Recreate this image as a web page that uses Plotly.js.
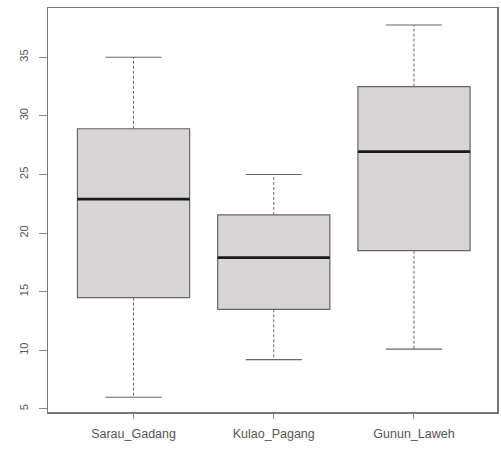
<!DOCTYPE html>
<html><head><meta charset="utf-8">
<script src="https://cdn.plot.ly/plotly-3.0.1.min.js"></script>
<style>html,body{margin:0;padding:0;background:#fff}#c{width:501px;height:449px}</style>
</head><body><div id="c"></div>
<script>
const categories = ["Sarau_Gadang", "Kulao_Pagang", "Gunun_Laweh"];
const lowerWhisker = [6.0, 9.2, 10.1];
const q1 = [14.5, 13.5, 18.5];
const median = [22.9, 17.9, 26.95];
const q3 = [28.9, 21.55, 32.5];
const upperWhisker = [35.0, 25.0, 37.75];
const yTicks = [5, 10, 15, 20, 25, 30, 35];

const pos = categories.map((c, i) => i + 1);
const boxHalf = 0.4, capHalf = 0.2;
const traces = [];
pos.forEach((p, i) => {
  traces.push({type:'scatter', mode:'lines', x:[p,p,null,p,p], y:[q3[i],upperWhisker[i],null,q1[i],lowerWhisker[i]],
    line:{color:'#666', width:1, dash:'3px,2px'}, hoverinfo:'skip', showlegend:false});
  traces.push({type:'scatter', mode:'lines', x:[p-capHalf,p+capHalf,null,p-capHalf,p+capHalf], y:[upperWhisker[i],upperWhisker[i],null,lowerWhisker[i],lowerWhisker[i]],
    line:{color:'#666', width:1.2}, hoverinfo:'skip', showlegend:false});
});
traces.push({type:'box', x:pos, q1:q1, median:median, q3:q3, lowerfence:q1, upperfence:q3,
  width:0.8, whiskerwidth:0, fillcolor:'#d8d5d7', line:{color:'#666', width:1.2},
  hoverinfo:'skip', showlegend:false});
pos.forEach((p, i) => {
  traces.push({type:'scatter', mode:'lines', x:[p-boxHalf,p+boxHalf], y:[median[i],median[i]],
    line:{color:'#1a1a1a', width:2.8}, hoverinfo:'skip', showlegend:false});
});

const layout = {
  width:501, height:449,
  margin:{l:48, r:4, t:8, b:37},
  paper_bgcolor:'#fff', plot_bgcolor:'#fff',
  font:{family:'Liberation Sans, Arial, sans-serif', color:'#555'},
  showlegend:false,
  xaxis:{range:[0.39, 3.592], tickmode:'array', tickvals:pos, ticktext:categories,
    ticks:'outside', ticklen:5, tickcolor:'#888', showgrid:false, zeroline:false,
    showline:true, linecolor:'#777', linewidth:1.5, mirror:true, ticklabelstandoff:4,
    tickfont:{size:12.5, color:'#555'}},
  yaxis:{range:[4.74, 39.2], tickmode:'array', tickvals:yTicks, ticktext:yTicks.map(String),
    ticks:'outside', ticklen:8, tickcolor:'#888', showgrid:false, zeroline:false,
    showline:true, linecolor:'#777', linewidth:1.5, mirror:true, tickangle:-90, ticklabelstandoff:6,
    tickfont:{size:11, color:'#555'}}
};
Plotly.newPlot('c', traces, layout, {staticPlot:true, displayModeBar:false});
</script></body></html>
